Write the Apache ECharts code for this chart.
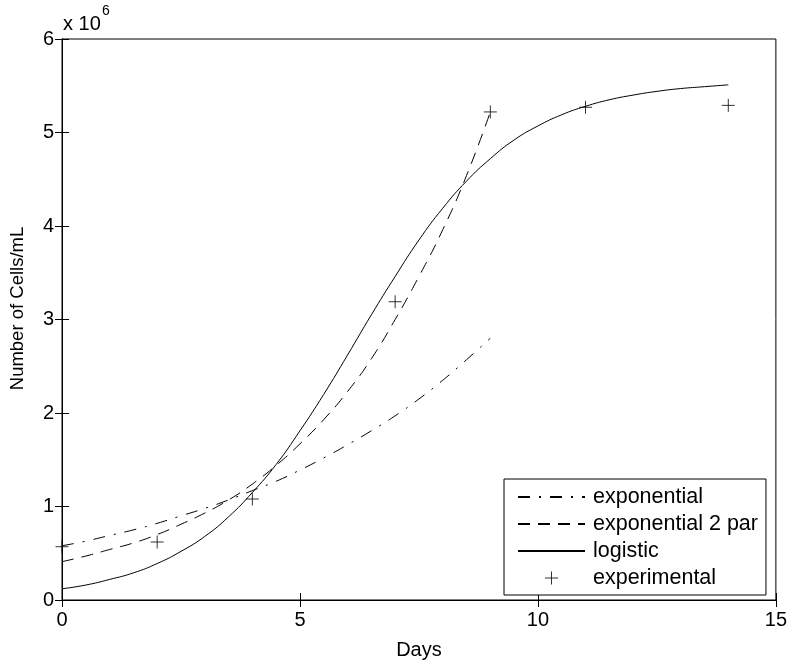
<!DOCTYPE html>
<html>
<head>
<meta charset="utf-8">
<title>Cell growth models</title>
<script src="https://cdn.jsdelivr.net/npm/echarts@6/dist/echarts.min.js"></script>
<style>
    html, body { margin: 0; padding: 0; background: #fff; }
    #main { width: 790px; height: 665px; }
</style>
</head>
<body>
<div id="main"></div>
<script>
    // values in millions of cells/mL (axis shows x 10^6)
    var logDays = [0, 0.5, 1, 1.5, 2, 2.5, 3, 3.5, 4, 4.5, 5, 5.5, 6, 6.5, 7, 7.5, 8, 8.5, 9, 9.5,
                   10, 10.5, 11, 11.5, 12, 12.5, 13, 13.5, 14];
    var logistic = [0.12, 0.16, 0.22, 0.29, 0.39, 0.52, 0.68, 0.89, 1.15, 1.45, 1.81, 2.20, 2.62, 3.05, 3.46,
                    3.85, 4.19, 4.48, 4.72, 4.92, 5.07, 5.19, 5.28, 5.35, 5.40, 5.44, 5.47, 5.49, 5.51];

    var expDays = [0, 0.5, 1, 1.5, 2, 2.5, 3, 3.5, 4, 4.5, 5, 5.5, 6, 6.5, 7, 7.5, 8, 8.5, 9];
    var exponential = [0.58, 0.63, 0.69, 0.75, 0.82, 0.90, 0.98, 1.07, 1.17, 1.27, 1.39, 1.52, 1.66,
                       1.81, 1.97, 2.15, 2.35, 2.57, 2.80];
    var exponential2 = [0.41, 0.47, 0.54, 0.61, 0.70, 0.81, 0.93, 1.07, 1.24, 1.44, 1.67, 1.93, 2.23,
                        2.58, 3.00, 3.46, 3.96, 4.54, 5.22];

    var obsDays = [0, 2, 4, 7, 9, 11, 14];
    var experimental = [0.57, 0.62, 1.08, 3.19, 5.22, 5.27, 5.29];

    var xTicks = {min: 0, max: 15, step: 5};
    var yTicks = {min: 0, max: 6, step: 1};

    function pairs(xs, ys) {
        var out = [];
        for (var i = 0; i < xs.length; i++) {
            out.push([xs[i], ys[i]]);
        }
        return out;
    }

    var font = "'Liberation Sans', Arial, Helvetica, sans-serif";
    var plus = 'path://M0,5L10,5M5,0L5,10';

    var axisCommon = {
        type: 'value',
        axisLine: {show: true, lineStyle: {color: '#000', width: 1}},
        axisTick: {show: true, inside: true, length: 7, lineStyle: {color: '#000'}},
        splitLine: {show: false}
    };

    var myChart = echarts.init(document.getElementById('main'));
    var option = {
        animation: false,
        backgroundColor: '#fff',
        textStyle: {fontFamily: font},
        grid: {left: 62, right: 13, top: 39, bottom: 61, show: true, borderColor: '#000', borderWidth: 1},
        graphic: [
            {type: 'text', left: 63, top: 14, style: {text: 'x 10', font: '20px ' + font, fill: '#000'}},
            {type: 'text', left: 102, top: 4, style: {text: '6', font: '14px ' + font, fill: '#000'}}
        ],
        xAxis: [
            Object.assign({}, axisCommon, {
                min: xTicks.min, max: xTicks.max, interval: xTicks.step,
                position: 'bottom',
                name: 'Days', nameLocation: 'middle', nameGap: 40,
                nameTextStyle: {fontSize: 20, color: '#000', fontFamily: font},
                axisLabel: {fontSize: 20, color: '#000', margin: 10, fontFamily: font}
            }),
            Object.assign({}, axisCommon, {
                min: xTicks.min, max: xTicks.max, interval: xTicks.step,
                position: 'top', axisLabel: {show: false}
            })
        ],
        yAxis: [
            Object.assign({}, axisCommon, {
                min: yTicks.min, max: yTicks.max, interval: yTicks.step,
                position: 'left',
                name: 'Number of Cells/mL', nameLocation: 'middle', nameGap: 35,
                nameTextStyle: {fontSize: 18.5, color: '#000', fontFamily: font, padding: [0, 0, 0, 22]},
                axisLabel: {fontSize: 20, color: '#000', margin: 8, fontFamily: font}
            }),
            Object.assign({}, axisCommon, {
                min: yTicks.min, max: yTicks.max, interval: yTicks.step,
                position: 'right', axisLabel: {show: false}
            })
        ],
        legend: {
            orient: 'vertical',
            left: 504,
            top: 479,
            padding: [7, 8, 6, 13],
            itemWidth: 67,
            itemHeight: 13,
            itemGap: 5,
            borderColor: '#000',
            borderWidth: 1,
            borderRadius: 0,
            backgroundColor: '#fff',
            textStyle: {fontSize: 21.5, color: '#000', lineHeight: 22, fontFamily: font, padding: [0, 0, 0, 3]},
            data: [
                {name: 'exponential', itemStyle: {opacity: 0}},
                {name: 'exponential 2 par', itemStyle: {opacity: 0}},
                {name: 'logistic', itemStyle: {opacity: 0}},
                {name: 'experimental', itemStyle: {color: 'none', borderColor: '#000', borderWidth: 1}}
            ]
        },
        series: [
            {
                name: 'exponential', type: 'line', symbol: 'none', smooth: true,
                lineStyle: {color: '#000', width: 1, type: [12, 9, 2, 9]},
                itemStyle: {color: '#000'},
                data: pairs(expDays, exponential)
            },
            {
                name: 'exponential 2 par', type: 'line', symbol: 'none', smooth: true,
                lineStyle: {color: '#000', width: 1, type: [12, 8]},
                itemStyle: {color: '#000'},
                data: pairs(expDays, exponential2)
            },
            {
                name: 'logistic', type: 'line', symbol: 'none', smooth: true,
                lineStyle: {color: '#000', width: 1, type: 'solid'},
                itemStyle: {color: '#000'},
                data: pairs(logDays, logistic)
            },
            {
                name: 'experimental', type: 'scatter', symbol: plus, symbolSize: 13,
                clip: false,
                itemStyle: {color: 'none', borderColor: '#000', borderWidth: 1},
                data: pairs(obsDays, experimental)
            }
        ]
    };
    myChart.setOption(option);
</script>
</body>
</html>
